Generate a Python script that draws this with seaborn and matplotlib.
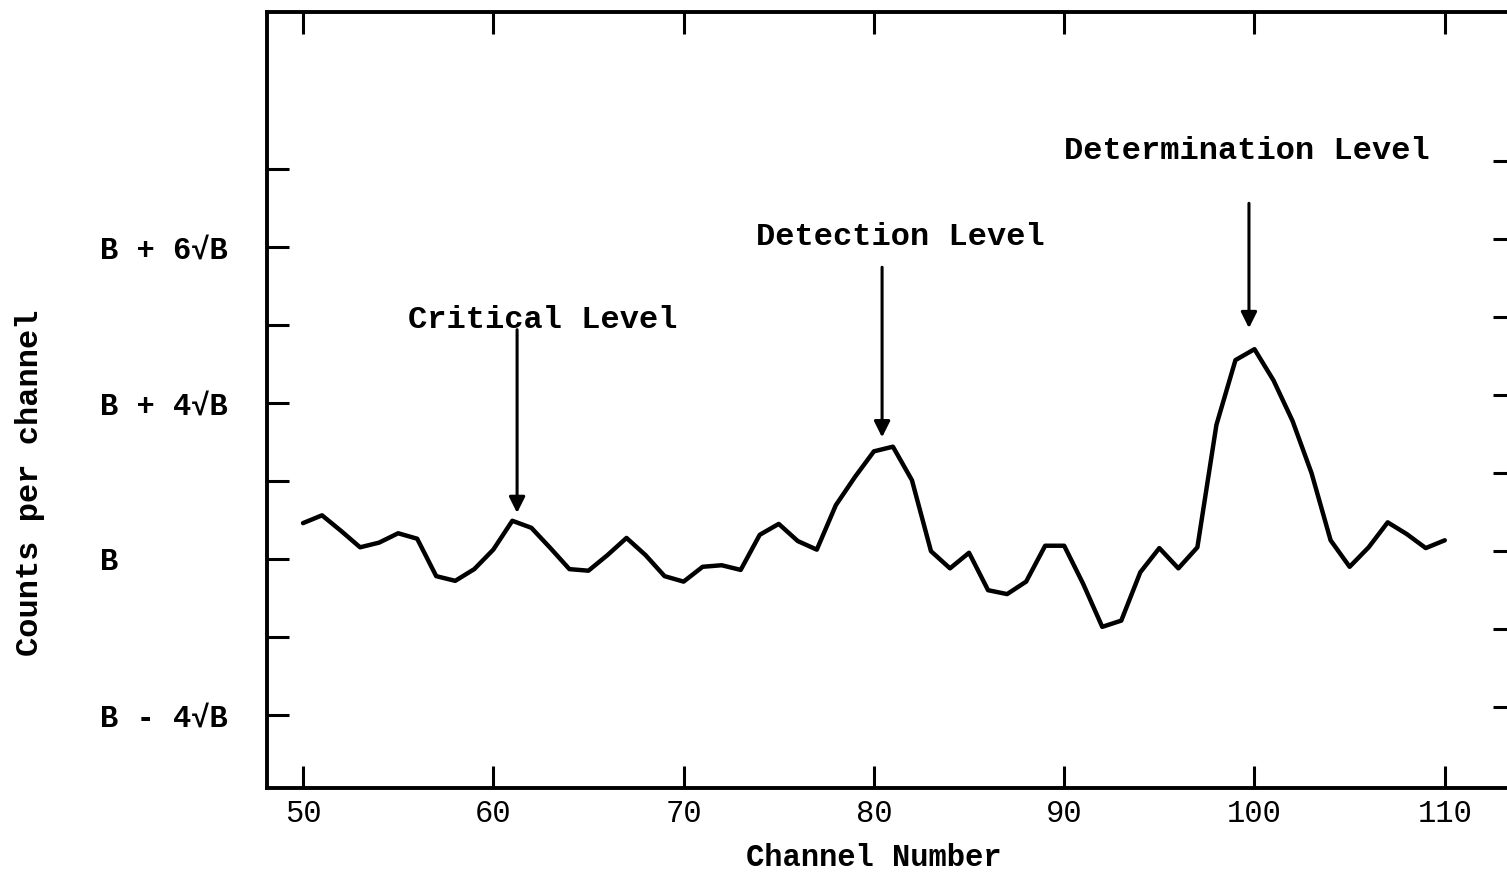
import numpy as np
import pandas as pd
import matplotlib
matplotlib.use("Agg")
import matplotlib.pyplot as plt
import seaborn as sns

# ---- data (y in units of the tick spacing, B = 0) ----
channels = list(range(50, 111))
counts = [0.46, 0.56, 0.36, 0.15, 0.21, 0.33, 0.26, -0.22, -0.28, -0.13,
          0.12, 0.49, 0.40, 0.14, -0.13, -0.15, 0.05, 0.27, 0.05, -0.22,
          -0.29, -0.10, -0.08, -0.14, 0.31, 0.45, 0.23, 0.12, 0.69, 1.05,
          1.38, 1.44, 1.01, 0.10, -0.12, 0.08, -0.40, -0.45, -0.29, 0.17,
          0.17, -0.32, -0.87, -0.79, -0.17, 0.14, -0.12, 0.15, 1.72, 2.55,
          2.69, 2.29, 1.77, 1.10, 0.24, -0.10, 0.15, 0.47, 0.32, 0.14,
          0.24]
x_ticks = [50, 60, 70, 80, 90, 100, 110]
x_tick_labels = ["50", "60", "70", "80", "90", "100", "110"]
y_ticks = [-2, -1, 0, 1, 2, 3, 4, 5]
y_tick_labels = ["B - 4\u221aB", "", "B", "", "B + 4\u221aB", "", "B + 6\u221aB", ""]
annotations = ["Critical Level", "Detection Level", "Determination Level"]

df = pd.DataFrame({"Channel Number": channels, "Counts": counts})

sns.set_theme(style="white")
MONO = ["Liberation Mono", "DejaVu Sans Mono"]
plt.rcParams["font.family"] = MONO

fig = plt.figure(figsize=(15.07, 8.74), dpi=100)
ax = fig.add_axes([267 / 1507, 86 / 874, 1248 / 1507, 776 / 874])

sns.lineplot(data=df, x="Channel Number", y="Counts", ax=ax,
             color="black", linewidth=3.2)

ax.set_xlim(48.108, 113.69)
ax.set_ylim(-2.936, 7.013)

for s in ax.spines.values():
    s.set_visible(True)
    s.set_linewidth(2.8)
    s.set_color("black")

ax.set_xticks(x_ticks)
ax.set_xticklabels(x_tick_labels)
ax.set_yticks(y_ticks)
ax.set_yticklabels(y_tick_labels)
ax.tick_params(axis="both", direction="in", length=16, width=2.2,
               color="black", labelcolor="black", labelsize=22)
ax.tick_params(axis="x", top=True, bottom=True, pad=8)
ax.tick_params(axis="y", left=True, right=False, pad=120)
for lab in ax.get_yticklabels():
    lab.set_horizontalalignment("left")
    lab.set_fontweight("bold")

# right-hand tick marks (slightly offset, as on the scanned original)
ax2 = ax.twinx()
ax2.set_ylim(ax.get_ylim())
ax2.set_yticks([t + 0.1 for t in y_ticks])
ax2.tick_params(axis="y", direction="in", length=16, width=2.2,
                color="black", labelright=False, right=True)
for s in ax2.spines.values():
    s.set_visible(False)
ax2.grid(False)

ax.set_xlabel("Channel Number", fontsize=22, color="black", fontweight="bold")
ax.xaxis.set_label_coords(0.486, -0.09)
ax.xaxis.label.set_va("center")
ax.set_ylabel("Counts per channel", fontsize=23, color="black", fontweight="bold")
ax.yaxis.set_label_coords(-0.19, 0.394)
ax.yaxis.label.set_va("center")

arrow_kw = dict(arrowstyle="-|>", lw=2.2, color="black",
                mutation_scale=24, shrinkA=0, shrinkB=0)
# (text x, text y, arrow x, arrow start y, arrow tip y)
placements = [(62.61, 3.06, 61.25, 2.94, 0.59),
              (81.37, 4.13, 80.43, 3.74, 1.56),
              (99.61, 5.23, 99.71, 4.56, 2.96)]
for label, (tx, ty, axx, ay0, ay1) in zip(annotations, placements):
    ax.text(tx, ty, label, ha="center", va="center", fontsize=23,
            fontweight="bold", color="black")
    ax.annotate("", xy=(axx, ay1), xytext=(axx, ay0), arrowprops=arrow_kw)

fig.savefig("out.png", dpi=100, facecolor="white")
